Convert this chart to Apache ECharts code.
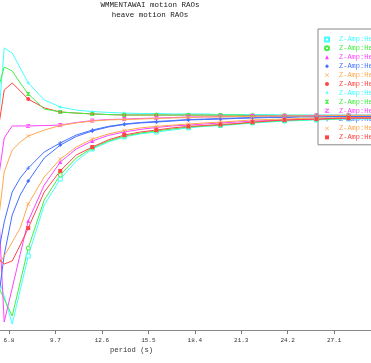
<!DOCTYPE html>
<html>
<head>
<meta charset="utf-8">
<script src="https://cdn.jsdelivr.net/npm/echarts@6/dist/echarts.min.js"></script>
<style>
  html, body { margin: 0; padding: 0; background: #fff; }
  #chart { width: 371px; height: 363px; }
</style>
</head>
<body>
<div id="chart"></div>
<script>
// periods (s) of the computed points
const periods = [6, 6.5, 7, 7.5, 8, 9, 10, 11, 12, 13, 14, 15, 16, 17, 18, 19, 20, 21, 22, 23, 24, 25, 26, 27, 28, 29, 30];
// periods where the markers are drawn
const markPeriods = [8, 10, 12, 14, 16, 18, 20, 22, 24, 26, 28];
const xTicks = [6.8, 9.7, 12.6, 15.5, 18.4, 21.3, 24.2, 27.1];

const seriesNames = [
  "Z-Amp:Head=0.0 deg (LC1)", "Z-Amp:Head=22.5 deg (LC1)", "Z-Amp:Head=45.0 deg (LC1)",
  "Z-Amp:Head=67.5 deg (LC1)", "Z-Amp:Head=90.0 deg (LC1)", "Z-Amp:Head=112.5 deg (LC1)",
  "Z-Amp:Head=135.0 deg (LC1)", "Z-Amp:Head=157.5 deg (LC1)", "Z-Amp:Head=180.0 deg (LC1)",
  "Z-Amp:Head=202.5 deg (LC1)", "Z-Amp:Head=225.0 deg (LC1)", "Z-Amp:Head=247.5 deg (LC1)"
];

// heave RAO amplitude (m/m)
const amp1 = [0.274, 0.158, 0.028, 0.186, 0.344, 0.581, 0.702, 0.786, 0.842, 0.874, 0.898, 0.912, 0.921, 0.930, 0.940, 0.947, 0.951, 0.956, 0.963, 0.967, 0.972, 0.974, 0.977, 0.979, 0.981, 0.981, 0.981];
const amp2 = [0.223, 0.144, 0.065, 0.223, 0.381, 0.605, 0.721, 0.800, 0.847, 0.879, 0.902, 0.916, 0.926, 0.935, 0.944, 0.949, 0.953, 0.958, 0.965, 0.970, 0.974, 0.977, 0.979, 0.981, 0.984, 0.984, 0.984];
const amp3 = [0.791, 0.037, 0.195, 0.353, 0.507, 0.674, 0.781, 0.842, 0.879, 0.905, 0.921, 0.933, 0.942, 0.949, 0.953, 0.958, 0.963, 0.967, 0.972, 0.974, 0.977, 0.979, 0.981, 0.984, 0.984, 0.986, 0.986];
const amp4 = [0.065, 0.349, 0.535, 0.628, 0.693, 0.800, 0.860, 0.900, 0.926, 0.944, 0.956, 0.963, 0.967, 0.972, 0.977, 0.979, 0.981, 0.984, 0.986, 0.988, 0.988, 0.991, 0.991, 0.991, 0.993, 0.993, 0.993];
const amp5 = [0.288, 0.344, 0.409, 0.474, 0.586, 0.712, 0.795, 0.851, 0.888, 0.912, 0.928, 0.940, 0.947, 0.953, 0.958, 0.963, 0.967, 0.972, 0.977, 0.979, 0.981, 0.984, 0.986, 0.986, 0.988, 0.988, 0.988];
const amp6 = [0.870, 1.116, 1.149, 1.112, 1.074, 1.033, 1.014, 1.009, 1.005, 1.002, 1.000, 1.000, 1.000, 1.000, 1.000, 1.000, 1.000, 1.000, 0.998, 0.998, 0.998, 0.998, 0.998, 0.998, 0.998, 0.998, 0.998];
const amp7 = [0.837, 1.312, 1.288, 1.219, 1.149, 1.070, 1.037, 1.023, 1.016, 1.012, 1.009, 1.007, 1.007, 1.005, 1.005, 1.005, 1.002, 1.002, 1.002, 1.002, 1.000, 1.000, 1.000, 1.000, 1.000, 1.000, 1.000];
const amp8 = [1.088, 1.223, 1.205, 1.149, 1.098, 1.028, 1.014, 1.009, 1.005, 1.002, 1.000, 1.000, 1.000, 1.000, 1.000, 1.000, 1.000, 1.000, 0.998, 0.998, 0.998, 0.998, 0.998, 0.998, 0.998, 0.998, 0.998];
const amp9 = [0.628, 0.893, 0.949, 0.949, 0.949, 0.951, 0.953, 0.965, 0.974, 0.979, 0.981, 0.984, 0.986, 0.988, 0.991, 0.991, 0.993, 0.993, 0.995, 0.995, 0.995, 0.995, 0.998, 0.998, 0.998, 0.998, 0.998];
const amp10 = [0.302, 0.502, 0.642, 0.707, 0.753, 0.828, 0.870, 0.907, 0.930, 0.947, 0.958, 0.965, 0.970, 0.974, 0.979, 0.981, 0.984, 0.986, 0.988, 0.991, 0.991, 0.993, 0.993, 0.993, 0.995, 0.995, 0.995];
const amp11 = [0.419, 0.735, 0.837, 0.874, 0.902, 0.930, 0.951, 0.963, 0.972, 0.977, 0.979, 0.981, 0.984, 0.986, 0.988, 0.991, 0.991, 0.993, 0.993, 0.995, 0.995, 0.995, 0.995, 0.998, 0.998, 0.998, 0.998];
const amp12 = [0.344, 0.307, 0.321, 0.395, 0.474, 0.642, 0.740, 0.814, 0.851, 0.884, 0.907, 0.921, 0.930, 0.940, 0.947, 0.951, 0.956, 0.960, 0.967, 0.972, 0.977, 0.979, 0.981, 0.984, 0.986, 0.986, 0.986];

const amps = [amp1, amp2, amp3, amp4, amp5, amp6, amp7, amp8, amp9, amp10, amp11, amp12];

const colors = ["#44ffff", "#44ee44", "#ff44ff", "#4470ff", "#ffa850", "#ff4444",
                "#44ffff", "#44ee44", "#ff44ff", "#4470ff", "#ffa850", "#ff4444"];

const xMark = "path://M0,1L1,0L5,4L9,0L10,1L6,5L10,9L9,10L5,6L1,10L0,9L4,5Z";
const symbols = [
  "rect", "circle", "triangle", "diamond", xMark, "circle",
  "path://M5,0L6.5,3.5L10,5L6.5,6.5L5,10L3.5,6.5L0,5L3.5,3.5Z",
  "path://M0,0L10,0L10,1.5L6,5L10,8.5L10,10L0,10L0,8.5L4,5L0,1.5Z",
  "path://M0,0L10,0L10,2L3,8L10,8L10,10L0,10L0,8L7,2L0,2Z",
  "path://M4,0L6,0L6,4L10,4L10,6L6,6L6,10L4,10L4,6L0,6L0,4L4,4Z",
  xMark, "rect"
];
const hollow = [true, true, false, false, false, false, false, false, false, false, false, false];

const monoFont = "Liberation Mono";

let myChart = echarts.init(document.getElementById("chart"));

let series = amps.map((arr, i) => ({
  name: seriesNames[i],
  type: "line",
  z: 3,
  data: periods.map((p, k) => [p, arr[k]]),
  symbol: symbols[i],
  symbolSize: (v) => markPeriods.indexOf(v[0]) > -1 ? 4 : 0,
  lineStyle: { color: colors[i], width: 1 },
  itemStyle: hollow[i]
    ? { color: "#fff", borderColor: colors[i], borderWidth: 1 }
    : { color: colors[i], borderWidth: 0 },
  emphasis: { disabled: true },
}));

let option = {
  animation: false,
  backgroundColor: "#fff",
  title: {
    text: "WMMENTAWAI motion RAOs",
    subtext: "heave motion RAOs",
    left: 150,
    top: 1,
    textAlign: "center",
    padding: 0,
    itemGap: 1,
    textStyle: { fontFamily: monoFont, fontSize: 7.5, fontWeight: "normal", color: "#222", lineHeight: 9 },
    subtextStyle: { fontFamily: monoFont, fontSize: 7.5, color: "#222", lineHeight: 9 },
  },
  legend: {
    orient: "vertical",
    left: 318,
    top: 29,
    z: 0,
    padding: [6, 5, 3, 6],
    itemGap: 0,
    itemWidth: 4,
    itemHeight: 4,
    borderColor: "#888",
    borderWidth: 1,
    backgroundColor: "#fff",
    selectedMode: false,
    textStyle: { fontFamily: monoFont, fontSize: 7, lineHeight: 8.9, padding: [0, 0, 0, 5] },
    data: seriesNames.map((n, i) => ({
      name: n,
      icon: symbols[i],
      textStyle: { color: colors[i] },
    })),
  },
  grid: {
    left: 0,
    right: 0,
    top: 29,
    bottom: 33,
  },
  xAxis: {
    type: "value",
    min: 6.238,
    max: 29.4,
    splitLine: { show: false },
    axisLine: { lineStyle: { color: "#888", width: 1 } },
    axisTick: { customValues: xTicks, length: 4, lineStyle: { color: "#777" } },
    axisLabel: {
      customValues: xTicks,
      margin: 7,
      fontFamily: monoFont,
      fontSize: 6,
      color: "#333",
      formatter: (v) => v.toFixed(1),
    },
  },
  yAxis: {
    type: "value",
    show: false,
    min: 0,
    max: 1.4,
    splitLine: { show: false },
  },
  graphic: [
    {
      type: "text",
      left: 110,
      top: 347,
      style: { text: "period (s)", fontFamily: monoFont, fontSize: 7.2, fill: "#333" },
    },
  ],
  series: series,
};

myChart.setOption(option);
window.addEventListener("resize", function () {
  myChart.resize();
});
</script>
</body>
</html>
